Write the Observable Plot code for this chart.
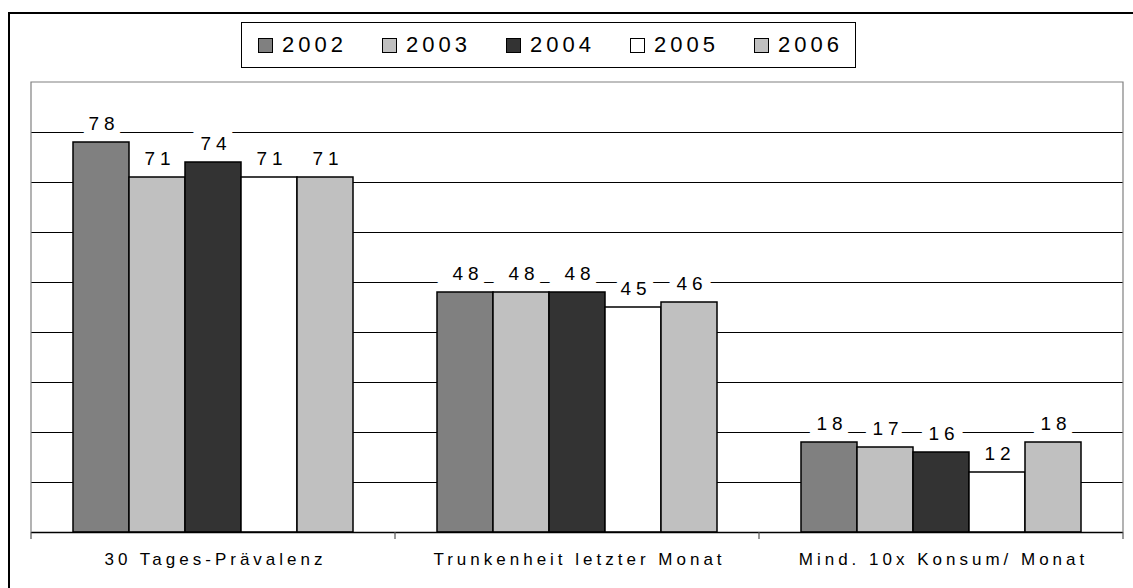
<!DOCTYPE html>
<html>
<head>
<meta charset="utf-8">
<script src="https://cdn.jsdelivr.net/npm/d3@7"></script>
<script src="https://cdn.jsdelivr.net/npm/@observablehq/plot@0.6"></script>
<style>
  body { margin: 0; background: #fff; }
  #wrap { position: relative; width: 1133px; height: 588px; overflow: hidden; font-family: "Liberation Sans", Arial, sans-serif; }
  #border { position: absolute; left: 8px; top: 12px; width: 1300px; height: 700px; border-left: 2px solid #000; border-top: 2px solid #000; box-sizing: border-box; }
  #chart { position: absolute; left: 0; top: 0; }
  #legend { position: absolute; left: 241px; top: 22px; width: 615px; height: 46px; border: 1px solid #000; background: #fff; box-sizing: border-box; display: flex; align-items: center; padding-left: 16px; }
  .item { display: flex; align-items: center; width: 124px; flex: none; }
  .sw { width: 13px; height: 13px; border: 1px solid #000; flex: none; }
  .lab { margin-left: 9px; font-size: 22px; letter-spacing: 4px; color: #000; line-height: 1; }
  g[aria-description="values"] text { letter-spacing: 5px; }
  g[aria-description="cats"] text { letter-spacing: 4px; }
</style>
</head>
<body>
<div id="wrap">
  <div id="border"></div>
  <div id="chart"></div>
  <div id="legend"></div>
</div>
<script>
// ---- data ----
const categories = ["30 Tages-Prävalenz", "Trunkenheit letzter Monat", "Mind. 10x Konsum/ Monat"];
const years = ["2002", "2003", "2004", "2005", "2006"];
const values2002 = [78, 48, 18];
const values2003 = [71, 48, 17];
const values2004 = [74, 48, 16];
const values2005 = [71, 45, 12];
const values2006 = [71, 46, 18];
const yearColors = ["#808080", "#c0c0c0", "#333333", "#ffffff", "#c0c0c0"];
const gridTicks = [10, 20, 30, 40, 50, 60, 70, 80];
const yMax = 90;

const series = [values2002, values2003, values2004, values2005, values2006];
const rows = [];
categories.forEach((c, i) => {
  years.forEach((yr, j) => rows.push({category: c, year: yr, value: series[j][i]}));
});

// ---- legend ----
const legend = document.getElementById("legend");
years.forEach((yr, j) => {
  const it = document.createElement("div");
  it.className = "item";
  const sw = document.createElement("div");
  sw.className = "sw";
  sw.style.background = yearColors[j];
  const lb = document.createElement("span");
  lb.className = "lab";
  lb.textContent = yr;
  it.appendChild(sw); it.appendChild(lb);
  legend.appendChild(it);
});

// ---- chart ----
const chart = Plot.plot({
  width: 1133,
  height: 588,
  marginLeft: 30,
  marginRight: 9,
  marginTop: 82,
  marginBottom: 56,
  style: {fontFamily: "'Liberation Sans', Arial, sans-serif", background: "transparent", color: "#000"},
  fx: {domain: categories, padding: 0, axis: null, label: null},
  x: {domain: years, paddingInner: 0, paddingOuter: 0.73, axis: null},
  y: {domain: [0, yMax], axis: null},
  color: {type: "ordinal", domain: years, range: yearColors},
  marks: [
    Plot.ruleY(gridTicks, {stroke: "#000", strokeWidth: 1}),
    Plot.text(rows, {
      fx: "category", x: "year", y: "value", text: d => String(d.value),
      dy: -19, dx: 2.5, fontSize: 19, fill: "#000",
      stroke: "#fff", strokeWidth: 16, paintOrder: "stroke", strokeLinejoin: "miter",
      ariaDescription: "values"
    }),
    Plot.barY(rows, {fx: "category", x: "year", y: "value", fill: "year", stroke: "#000", strokeWidth: 1.5}),
    Plot.ruleY([0], {stroke: "#000", strokeWidth: 1.5}),
    Plot.text(categories, {fx: d => d, text: d => d, frameAnchor: "bottom", dy: 32, dx: 2, fontSize: 17, fill: "#000", ariaDescription: "cats"})
  ]
});
document.getElementById("chart").appendChild(chart);

// frame (left, top, right in gray) and category boundary ticks, from Plot's scales
const fx = chart.scale("fx");
const ys = chart.scale("y");
const edges = categories.map(c => fx.apply(c)).concat([fx.apply(categories[categories.length - 1]) + fx.bandwidth]);
const yTop = ys.apply(yMax), yBase = ys.apply(0);
const svg = d3.select(chart);
svg.append("path")
  .attr("d", `M${edges[0]},${yBase} V${yTop} H${edges[edges.length - 1]} V${yBase}`)
  .attr("fill", "none").attr("stroke", "#808080").attr("stroke-width", 1.2);
svg.append("g").selectAll("line").data(edges).join("line")
  .attr("x1", d => d).attr("x2", d => d)
  .attr("y1", yBase).attr("y2", yBase + 7)
  .attr("stroke", "#555").attr("stroke-width", 1.2);
</script>
</body>
</html>
